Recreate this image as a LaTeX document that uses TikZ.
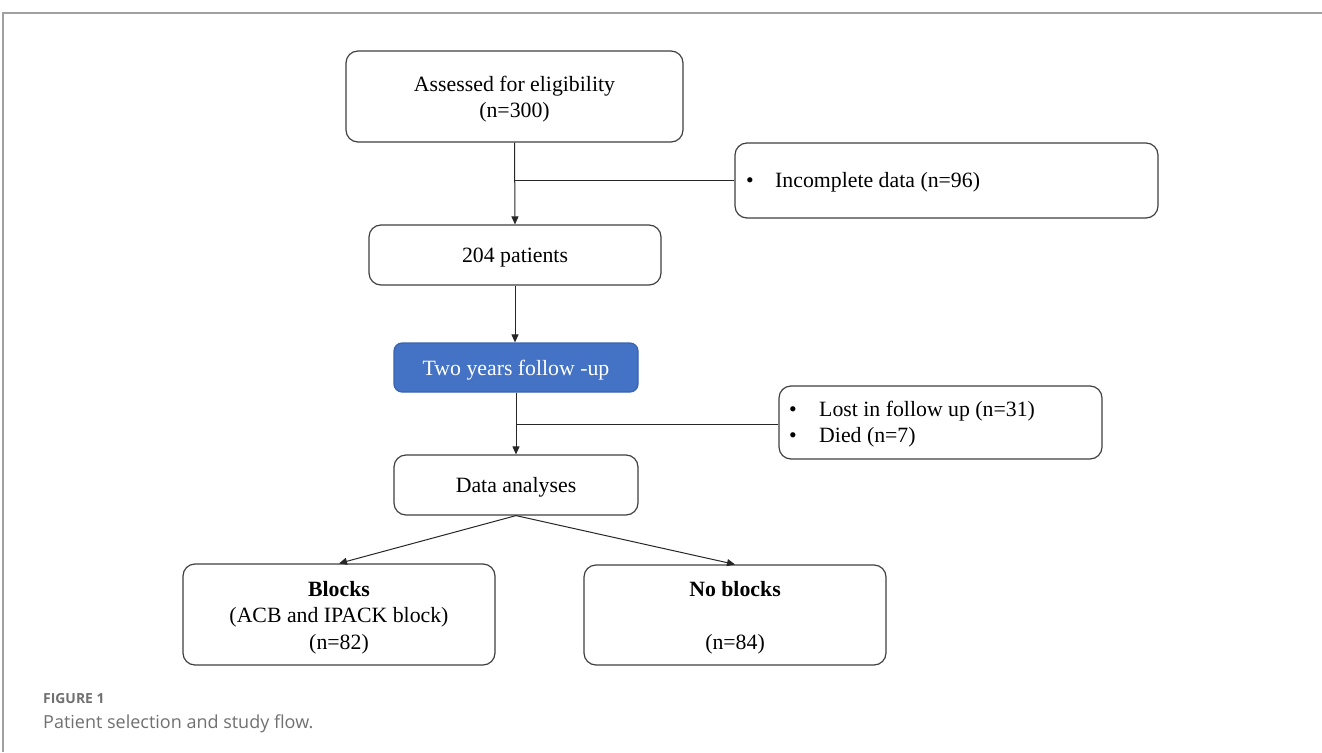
\documentclass[tikz,border=0pt]{standalone}
\usepackage{fontspec}
\setmainfont{Liberation Serif}
\newfontfamily\capfont{Open Sans}
\usetikzlibrary{arrows.meta}
\definecolor{boxline}{HTML}{3F3F3F}
\definecolor{blueA}{HTML}{4472C4}
\definecolor{blueB}{HTML}{3A64AE}
\definecolor{frameg}{HTML}{A0A0A0}
\definecolor{capg}{HTML}{707070}
\newcommand{\topstrut}{\rule{0pt}{21pt}}
\tikzset{
  box/.style={draw=boxline, line width=1.2pt, rounded corners=12pt, inner sep=0pt, align=center,
    font=\fontsize{21.8}{26.5}\selectfont},
  onebox/.style={box, execute at begin node={\rule{0pt}{20.5pt}}},
  bluebox/.style={onebox, fill=blueA, draw=blueB, rounded corners=8pt, text=white},
  conn/.style={draw=black!85, line width=1pt},
  arr/.style={conn, -{Triangle[length=8pt,width=7pt]}},
  bul/.style={anchor=west, inner sep=0pt, font=\fontsize{21.8}{25}\selectfont, align=left},
}
\begin{document}
\begin{tikzpicture}[x=1pt,y=-1pt]
\useasboundingbox (0,0) rectangle (1322,752);
% frame
\draw[frameg, line width=1.2pt] (3,752) -- (3,13) -- (1322,13);
% boxes
\node[box, minimum width=337pt, minimum height=91pt] (A) at (514.5,96.5) {\topstrut Assessed for eligibility\\(n=300)};
\node[box, minimum width=423pt, minimum height=75pt] (inc) at (946.5,180.5) {};
\node[bul] (inct) at (746,182) {\makebox[29pt][l]{•}Incomplete data (n=96)};
\node[onebox, minimum width=292pt, minimum height=60pt] (B) at (515,255) {204 patients};
\node[bluebox, minimum width=244pt, minimum height=49pt] (C) at (516,367.5) {Two years follow -up};
\node[box, minimum width=323pt, minimum height=73pt] (lost) at (940.5,422.5) {};
\node[bul, font=\fontsize{21.8}{25.5}\selectfont] (lostt) at (789,424) {\makebox[30pt][l]{•}Lost in follow up (n=31)\\\makebox[30pt][l]{•}Died (n=7)};
\node[onebox, minimum width=244pt, minimum height=60pt] (D) at (516,485) {Data analyses};
\node[box, minimum width=312pt, minimum height=101pt] (E) at (339,614.5) {\topstrut\textbf{Blocks}\\(ACB and IPACK block)\\(n=82)};
\node[box, minimum width=302pt, minimum height=100pt] (F) at (735,615) {\topstrut\textbf{No blocks}\\\strut\\(n=84)};
% connectors
\draw[arr] (A.south) -- (B.north);
\draw[conn] (inc.west) -- (A.south |- inc.west);
\draw[arr] (B.south) -- (C.north -| B.south);
\draw[arr] (C.south) -- (D.north);
\draw[conn] (lost.west |- 0,424) -- (C.south |- 0,424);
\draw[arr] (D.south) -- (E.north);
\draw[arr] (D.south) -- (F.north);
% caption
\node[anchor=base west, inner sep=0pt, text=capg, font=\capfont\fontsize{13.9}{14}\selectfont\bfseries] (fig) at (43,703) {FIGURE 1};
\node[anchor=base west, inner sep=0pt, text=capg, font=\capfont\fontsize{18}{18}\selectfont] (cap) at (43,728) {Patient selection and study flow.};
\end{tikzpicture}
\end{document}
